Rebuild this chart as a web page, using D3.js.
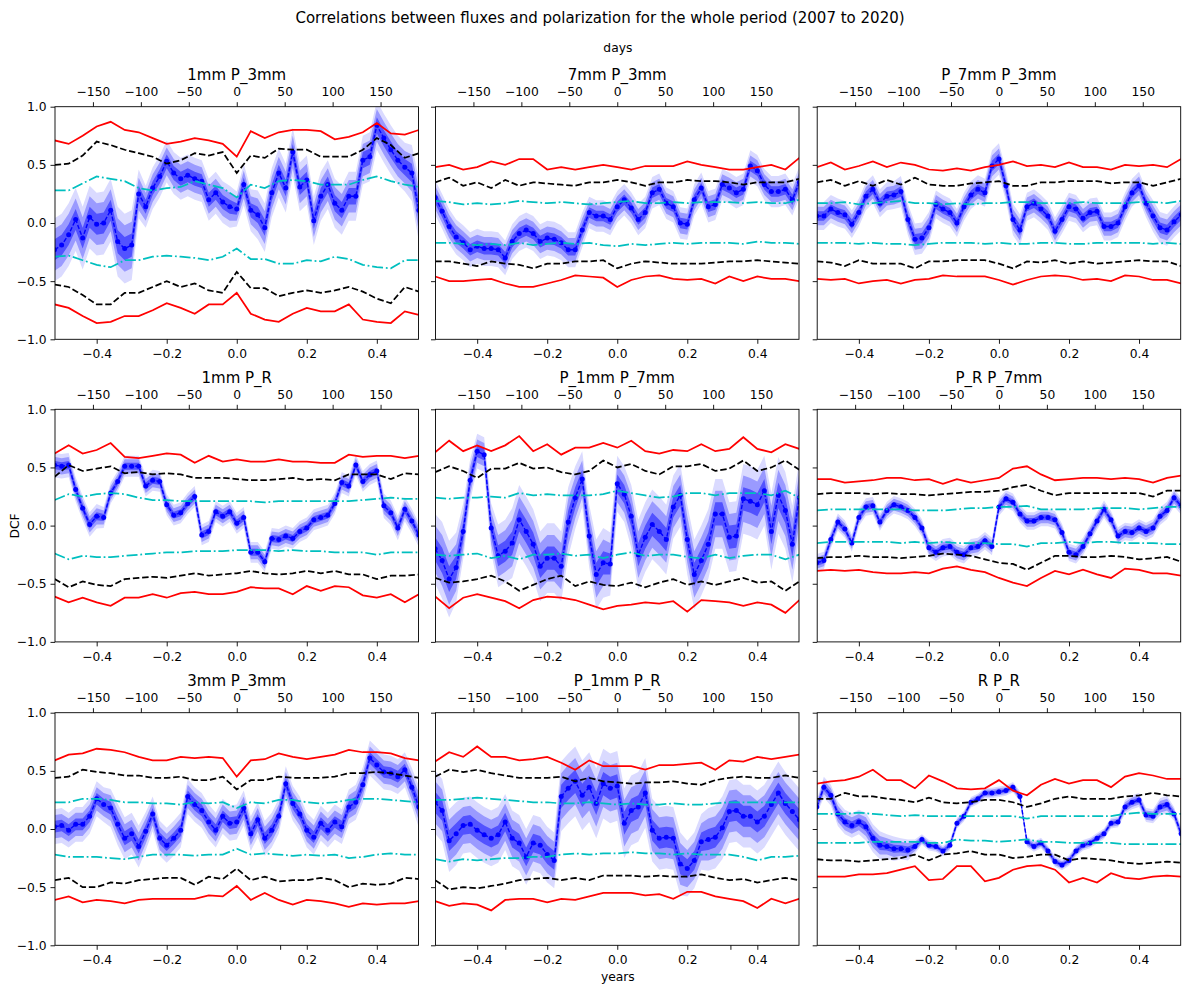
<!DOCTYPE html>
<html>
<head>
<meta charset="utf-8">
<script src="https://cdn.jsdelivr.net/npm/d3@7"></script>
<style>
  body { margin: 0; background: #fff; }
  text { font-family: "DejaVu Sans", sans-serif; fill: #000; }
</style>
</head>
<body>
<svg id="chart" width="1200" height="993"></svg>
<script>
// lags in years: fine grid for the DCF points, coarse grid for the significance levels
const lagFine = [-0.52,-0.50,-0.48,-0.46,-0.44,-0.42,-0.40,-0.38,-0.36,-0.34,-0.32,-0.30,-0.28,-0.26,-0.24,-0.22,-0.20,-0.18,-0.16,-0.14,-0.12,-0.10,-0.08,-0.06,-0.04,-0.02,0.00,0.02,0.04,0.06,0.08,0.10,0.12,0.14,0.16,0.18,0.20,0.22,0.24,0.26,0.28,0.30,0.32,0.34,0.36,0.38,0.40,0.42,0.44,0.46,0.48,0.50,0.52];
const lagCoarse = [-0.52,-0.48,-0.44,-0.40,-0.36,-0.32,-0.28,-0.24,-0.20,-0.16,-0.12,-0.08,-0.04,0.00,0.04,0.08,0.12,0.16,0.20,0.24,0.28,0.32,0.36,0.40,0.44,0.48,0.52];

const yearTicks = [-0.4,-0.2,0.0,0.2,0.4];
const dayTicks = [-150,-100,-50,0,50,100,150];
const dcfTicks = [-1.0,-0.5,0.0,0.5,1.0];

const titles = ["1mm P_3mm","7mm P_3mm","P_7mm P_3mm","1mm P_R","P_1mm P_7mm","P_R P_7mm","3mm P_3mm","P_1mm P_R","R P_R"];

// ---- 1mm P_3mm
const p1_dcf = [-0.23,-0.19,-0.10,0.03,-0.13,0.05,-0.01,0.00,0.11,-0.16,-0.22,-0.19,0.25,0.14,0.30,0.40,0.53,0.43,0.38,0.41,0.38,0.36,0.20,0.26,0.18,0.14,0.12,0.33,0.11,0.07,-0.04,0.26,0.43,0.30,0.61,0.31,0.37,0.02,0.23,0.33,0.17,0.11,0.23,0.23,0.54,0.57,0.84,0.73,0.63,0.54,0.48,0.43,0.11];
const p1_err = [0.09,0.09,0.09,0.09,0.09,0.09,0.09,0.09,0.09,0.10,0.10,0.10,0.07,0.06,0.06,0.06,0.06,0.06,0.06,0.06,0.06,0.06,0.06,0.06,0.06,0.06,0.05,0.06,0.06,0.07,0.07,0.07,0.07,0.07,0.07,0.07,0.07,0.07,0.07,0.07,0.07,0.07,0.07,0.07,0.07,0.07,0.07,0.07,0.07,0.07,0.07,0.08,0.09];
const p1_redHi = [0.71,0.68,0.75,0.83,0.87,0.80,0.78,0.73,0.68,0.70,0.73,0.71,0.68,0.57,0.79,0.73,0.78,0.80,0.80,0.79,0.72,0.74,0.78,0.86,0.77,0.76,0.80];
const p1_blackHi = [0.50,0.51,0.58,0.70,0.67,0.63,0.60,0.57,0.51,0.54,0.60,0.58,0.61,0.43,0.58,0.56,0.64,0.63,0.63,0.57,0.57,0.57,0.63,0.73,0.67,0.56,0.60];
const p1_cyanHi = [0.28,0.28,0.34,0.40,0.38,0.36,0.30,0.28,0.30,0.31,0.36,0.33,0.30,0.22,0.33,0.30,0.36,0.37,0.36,0.33,0.33,0.33,0.37,0.40,0.36,0.33,0.31];
const p1_cyanLo = [-0.29,-0.28,-0.32,-0.36,-0.38,-0.32,-0.32,-0.29,-0.28,-0.29,-0.30,-0.32,-0.29,-0.22,-0.31,-0.31,-0.35,-0.35,-0.32,-0.33,-0.29,-0.31,-0.36,-0.38,-0.39,-0.32,-0.32];
const p1_blackLo = [-0.53,-0.55,-0.62,-0.70,-0.70,-0.60,-0.60,-0.55,-0.50,-0.55,-0.52,-0.58,-0.60,-0.42,-0.56,-0.56,-0.63,-0.60,-0.58,-0.60,-0.58,-0.55,-0.59,-0.65,-0.69,-0.55,-0.59];
const p1_redLo = [-0.70,-0.73,-0.80,-0.86,-0.85,-0.80,-0.80,-0.75,-0.69,-0.73,-0.78,-0.70,-0.70,-0.60,-0.78,-0.83,-0.85,-0.78,-0.73,-0.76,-0.76,-0.70,-0.83,-0.85,-0.86,-0.76,-0.79];

// ---- 7mm P_3mm
const p2_dcf = [0.22,0.10,-0.03,-0.12,-0.17,-0.23,-0.20,-0.22,-0.22,-0.23,-0.30,-0.16,-0.09,-0.06,-0.09,-0.16,-0.13,-0.14,-0.17,-0.23,-0.23,-0.06,0.09,0.06,0.06,0.03,0.14,0.20,0.13,0.03,0.09,0.26,0.29,0.17,0.14,0.00,-0.01,0.20,0.30,0.14,0.16,0.33,0.30,0.26,0.29,0.49,0.45,0.33,0.27,0.27,0.29,0.20,0.35];
const p2_err = [0.05,0.05,0.05,0.05,0.05,0.05,0.05,0.05,0.05,0.05,0.05,0.05,0.05,0.05,0.05,0.05,0.05,0.05,0.05,0.05,0.05,0.05,0.045,0.045,0.045,0.045,0.045,0.045,0.045,0.045,0.045,0.045,0.045,0.045,0.045,0.045,0.045,0.045,0.045,0.045,0.045,0.045,0.045,0.045,0.045,0.045,0.045,0.045,0.045,0.045,0.045,0.045,0.045];
const p2_redHi = [0.48,0.50,0.46,0.48,0.53,0.50,0.55,0.55,0.46,0.48,0.46,0.48,0.50,0.48,0.46,0.49,0.49,0.49,0.53,0.50,0.48,0.46,0.46,0.48,0.50,0.46,0.56];
const p2_blackHi = [0.35,0.39,0.32,0.35,0.30,0.37,0.32,0.35,0.34,0.33,0.32,0.35,0.35,0.37,0.35,0.32,0.35,0.35,0.37,0.36,0.36,0.35,0.33,0.35,0.35,0.35,0.38];
const p2_cyanHi = [0.19,0.18,0.16,0.17,0.16,0.17,0.19,0.18,0.17,0.18,0.17,0.16,0.17,0.18,0.19,0.17,0.17,0.18,0.17,0.18,0.18,0.18,0.17,0.18,0.17,0.17,0.20];
const p2_cyanLo = [-0.17,-0.17,-0.18,-0.19,-0.18,-0.19,-0.17,-0.19,-0.18,-0.17,-0.18,-0.17,-0.19,-0.20,-0.18,-0.19,-0.18,-0.17,-0.18,-0.17,-0.17,-0.17,-0.18,-0.16,-0.17,-0.17,-0.18];
const p2_blackLo = [-0.33,-0.33,-0.35,-0.37,-0.33,-0.35,-0.36,-0.39,-0.35,-0.35,-0.33,-0.33,-0.32,-0.39,-0.35,-0.33,-0.34,-0.35,-0.35,-0.35,-0.34,-0.33,-0.33,-0.32,-0.33,-0.34,-0.35];
const p2_redLo = [-0.46,-0.50,-0.50,-0.49,-0.48,-0.52,-0.55,-0.55,-0.52,-0.49,-0.45,-0.46,-0.47,-0.55,-0.49,-0.46,-0.45,-0.48,-0.49,-0.48,-0.52,-0.46,-0.50,-0.46,-0.48,-0.48,-0.50];

// ---- P_7mm P_3mm
const p3_dcf = [0.06,0.06,0.12,0.09,0.07,-0.01,0.09,0.23,0.29,0.17,0.23,0.24,0.27,0.03,-0.14,-0.13,-0.04,0.16,0.12,0.09,0.00,0.14,0.24,0.29,0.26,0.49,0.55,0.32,0.03,-0.06,0.14,0.17,0.12,0.06,-0.07,0.03,0.14,0.12,0.04,0.09,0.10,-0.03,-0.03,0.00,0.14,0.26,0.32,0.17,0.06,-0.04,-0.06,0.01,0.07];
const p3_err = [0.04,0.04,0.04,0.04,0.04,0.04,0.04,0.04,0.04,0.04,0.04,0.04,0.045,0.045,0.045,0.045,0.045,0.04,0.04,0.04,0.04,0.04,0.04,0.04,0.04,0.045,0.045,0.045,0.045,0.045,0.04,0.04,0.04,0.04,0.04,0.04,0.04,0.04,0.04,0.04,0.04,0.04,0.04,0.04,0.04,0.04,0.04,0.04,0.045,0.045,0.045,0.045,0.045];
const p3_redHi = [0.48,0.52,0.46,0.49,0.53,0.48,0.52,0.50,0.46,0.45,0.47,0.45,0.48,0.50,0.53,0.49,0.50,0.48,0.52,0.48,0.48,0.46,0.50,0.49,0.50,0.48,0.55];
const p3_blackHi = [0.35,0.37,0.32,0.36,0.32,0.37,0.33,0.39,0.33,0.32,0.32,0.34,0.35,0.36,0.32,0.32,0.35,0.35,0.36,0.36,0.36,0.34,0.35,0.35,0.32,0.35,0.38];
const p3_cyanHi = [0.17,0.17,0.18,0.16,0.17,0.18,0.19,0.17,0.17,0.16,0.17,0.16,0.17,0.17,0.18,0.18,0.17,0.17,0.17,0.18,0.17,0.17,0.17,0.18,0.18,0.17,0.19];
const p3_cyanLo = [-0.17,-0.17,-0.17,-0.18,-0.17,-0.18,-0.18,-0.19,-0.18,-0.17,-0.17,-0.17,-0.18,-0.17,-0.18,-0.18,-0.17,-0.17,-0.18,-0.18,-0.17,-0.17,-0.17,-0.17,-0.18,-0.17,-0.18];
const p3_blackLo = [-0.33,-0.34,-0.37,-0.32,-0.35,-0.35,-0.35,-0.39,-0.33,-0.33,-0.32,-0.32,-0.32,-0.35,-0.39,-0.33,-0.34,-0.32,-0.35,-0.33,-0.35,-0.34,-0.33,-0.32,-0.33,-0.33,-0.37];
const p3_redLo = [-0.48,-0.49,-0.48,-0.52,-0.50,-0.49,-0.52,-0.49,-0.48,-0.45,-0.46,-0.46,-0.46,-0.49,-0.53,-0.49,-0.46,-0.45,-0.46,-0.49,-0.48,-0.50,-0.45,-0.46,-0.49,-0.49,-0.52];

// ---- 1mm P_R
const p4_dcf = [0.52,0.51,0.52,0.31,0.15,0.01,0.08,0.07,0.28,0.38,0.51,0.51,0.51,0.34,0.39,0.38,0.18,0.09,0.11,0.19,0.25,-0.08,-0.05,0.12,0.08,0.12,0.02,0.07,-0.23,-0.23,-0.31,-0.11,-0.12,-0.09,-0.11,-0.05,-0.02,0.05,0.07,0.09,0.19,0.37,0.34,0.52,0.38,0.44,0.47,0.17,0.11,-0.02,0.14,0.04,-0.08];
const p4_err = [0.035,0.035,0.035,0.035,0.035,0.035,0.035,0.03,0.03,0.03,0.03,0.03,0.03,0.03,0.03,0.03,0.03,0.03,0.03,0.03,0.03,0.03,0.03,0.03,0.03,0.03,0.03,0.03,0.03,0.03,0.03,0.03,0.03,0.03,0.03,0.03,0.03,0.03,0.03,0.03,0.03,0.03,0.03,0.03,0.03,0.03,0.03,0.035,0.035,0.035,0.035,0.035,0.035];
const p4_redHi = [0.62,0.69,0.62,0.65,0.71,0.59,0.58,0.60,0.62,0.61,0.54,0.60,0.55,0.57,0.55,0.55,0.57,0.55,0.55,0.54,0.54,0.61,0.59,0.60,0.60,0.58,0.60];
const p4_blackHi = [0.42,0.52,0.47,0.49,0.51,0.45,0.46,0.44,0.45,0.44,0.41,0.41,0.41,0.40,0.39,0.39,0.40,0.41,0.39,0.40,0.39,0.44,0.44,0.44,0.40,0.45,0.44];
const p4_cyanHi = [0.22,0.27,0.25,0.27,0.28,0.27,0.24,0.22,0.22,0.21,0.21,0.21,0.21,0.21,0.21,0.20,0.21,0.21,0.21,0.21,0.21,0.21,0.22,0.23,0.24,0.23,0.23];
const p4_cyanLo = [-0.24,-0.29,-0.26,-0.27,-0.27,-0.26,-0.25,-0.24,-0.23,-0.23,-0.22,-0.22,-0.22,-0.21,-0.21,-0.21,-0.22,-0.21,-0.22,-0.22,-0.23,-0.23,-0.23,-0.25,-0.23,-0.23,-0.23];
const p4_blackLo = [-0.46,-0.53,-0.48,-0.51,-0.52,-0.46,-0.45,-0.44,-0.45,-0.43,-0.41,-0.43,-0.42,-0.41,-0.39,-0.41,-0.42,-0.41,-0.39,-0.41,-0.39,-0.42,-0.42,-0.46,-0.43,-0.43,-0.42];
const p4_redLo = [-0.61,-0.66,-0.62,-0.66,-0.69,-0.62,-0.62,-0.59,-0.62,-0.58,-0.57,-0.59,-0.59,-0.57,-0.53,-0.54,-0.54,-0.59,-0.52,-0.56,-0.52,-0.53,-0.60,-0.62,-0.59,-0.66,-0.59];

// ---- P_1mm P_7mm
const p5_dcf = [-0.20,-0.30,-0.46,-0.36,-0.05,0.39,0.64,0.61,-0.02,-0.26,-0.22,-0.15,0.05,-0.05,-0.16,-0.35,-0.28,-0.28,-0.35,0.03,0.24,0.40,-0.09,-0.42,-0.32,-0.33,0.36,0.27,0.08,-0.25,-0.10,0.01,-0.05,-0.12,0.16,0.26,-0.12,-0.42,-0.30,-0.16,0.10,0.10,-0.10,-0.09,0.23,0.21,0.18,0.30,-0.05,0.26,0.13,-0.16,0.24];
const p5_err = [0.10,0.11,0.11,0.10,0.08,0.06,0.05,0.05,0.07,0.09,0.09,0.10,0.10,0.10,0.10,0.10,0.10,0.10,0.10,0.10,0.09,0.08,0.09,0.10,0.10,0.09,0.08,0.08,0.09,0.10,0.10,0.10,0.10,0.10,0.09,0.09,0.10,0.10,0.10,0.10,0.10,0.10,0.10,0.10,0.10,0.10,0.10,0.10,0.11,0.11,0.11,0.11,0.11];
const p5_redHi = [0.63,0.73,0.64,0.69,0.64,0.69,0.77,0.64,0.70,0.61,0.67,0.67,0.71,0.67,0.73,0.64,0.62,0.65,0.64,0.70,0.64,0.66,0.76,0.66,0.63,0.70,0.66];
const p5_blackHi = [0.46,0.51,0.47,0.41,0.49,0.49,0.54,0.49,0.50,0.46,0.44,0.47,0.56,0.50,0.53,0.47,0.44,0.51,0.51,0.53,0.47,0.49,0.56,0.47,0.50,0.56,0.48];
const p5_cyanHi = [0.24,0.23,0.24,0.24,0.25,0.24,0.28,0.26,0.27,0.26,0.26,0.26,0.27,0.30,0.28,0.26,0.24,0.25,0.28,0.28,0.26,0.28,0.28,0.28,0.26,0.30,0.24];
const p5_cyanLo = [-0.25,-0.26,-0.25,-0.24,-0.28,-0.26,-0.29,-0.25,-0.25,-0.24,-0.26,-0.25,-0.28,-0.25,-0.23,-0.26,-0.25,-0.25,-0.27,-0.28,-0.25,-0.28,-0.26,-0.25,-0.25,-0.29,-0.25];
const p5_blackLo = [-0.45,-0.49,-0.48,-0.46,-0.43,-0.48,-0.56,-0.51,-0.46,-0.43,-0.52,-0.48,-0.51,-0.52,-0.49,-0.53,-0.49,-0.46,-0.51,-0.48,-0.51,-0.48,-0.45,-0.49,-0.48,-0.56,-0.48];
const p5_redLo = [-0.61,-0.71,-0.62,-0.59,-0.62,-0.65,-0.71,-0.64,-0.61,-0.62,-0.64,-0.68,-0.72,-0.69,-0.68,-0.66,-0.67,-0.65,-0.74,-0.64,-0.65,-0.66,-0.69,-0.66,-0.68,-0.75,-0.64];

// ---- P_R P_7mm
const p6_dcf = [-0.32,-0.30,-0.12,0.03,-0.03,-0.15,0.07,0.16,0.17,0.03,0.13,0.18,0.16,0.13,0.07,-0.02,-0.19,-0.23,-0.19,-0.18,-0.23,-0.25,-0.19,-0.18,-0.13,-0.18,0.16,0.23,0.20,0.10,0.04,0.04,0.07,0.07,0.05,-0.06,-0.23,-0.25,-0.18,-0.07,0.04,0.14,0.05,-0.09,-0.05,-0.06,-0.02,-0.05,-0.02,0.08,0.13,0.24,0.17];
const p6_err = [0.025,0.025,0.025,0.025,0.025,0.025,0.025,0.025,0.025,0.025,0.025,0.025,0.025,0.025,0.025,0.025,0.025,0.025,0.025,0.025,0.025,0.025,0.025,0.025,0.025,0.025,0.025,0.025,0.025,0.025,0.025,0.025,0.025,0.025,0.025,0.025,0.025,0.025,0.025,0.025,0.025,0.025,0.025,0.025,0.025,0.025,0.025,0.025,0.025,0.025,0.025,0.025,0.025];
const p6_redHi = [0.40,0.40,0.37,0.38,0.39,0.41,0.41,0.39,0.40,0.36,0.40,0.37,0.39,0.41,0.49,0.51,0.44,0.39,0.40,0.41,0.41,0.40,0.41,0.40,0.37,0.41,0.43];
const p6_blackHi = [0.27,0.28,0.28,0.28,0.27,0.28,0.27,0.27,0.26,0.27,0.28,0.29,0.29,0.30,0.33,0.35,0.30,0.26,0.28,0.28,0.28,0.28,0.28,0.28,0.25,0.30,0.30];
const p6_cyanHi = [0.13,0.14,0.14,0.14,0.14,0.14,0.14,0.13,0.13,0.13,0.14,0.15,0.15,0.16,0.16,0.17,0.14,0.14,0.14,0.14,0.15,0.15,0.15,0.14,0.15,0.16,0.16];
const p6_cyanLo = [-0.15,-0.14,-0.14,-0.14,-0.14,-0.14,-0.15,-0.14,-0.15,-0.14,-0.15,-0.15,-0.15,-0.16,-0.16,-0.18,-0.15,-0.15,-0.14,-0.15,-0.14,-0.14,-0.15,-0.15,-0.15,-0.16,-0.16];
const p6_blackLo = [-0.28,-0.27,-0.27,-0.26,-0.27,-0.27,-0.28,-0.27,-0.26,-0.24,-0.25,-0.26,-0.29,-0.32,-0.33,-0.38,-0.32,-0.26,-0.26,-0.27,-0.27,-0.26,-0.27,-0.29,-0.28,-0.27,-0.31];
const p6_redLo = [-0.39,-0.38,-0.39,-0.38,-0.40,-0.41,-0.41,-0.40,-0.41,-0.37,-0.35,-0.38,-0.40,-0.45,-0.49,-0.52,-0.45,-0.39,-0.42,-0.38,-0.42,-0.45,-0.37,-0.38,-0.41,-0.41,-0.43];

// ---- 3mm P_3mm
const p7_dcf = [0.02,0.03,-0.01,0.04,0.04,0.11,0.26,0.21,0.18,0.04,-0.08,-0.04,-0.15,-0.02,0.13,-0.08,-0.14,-0.08,-0.01,0.28,0.21,0.16,0.06,-0.01,0.11,0.05,0.06,0.18,-0.04,0.08,-0.08,-0.01,0.11,0.39,0.22,0.13,-0.01,-0.07,0.05,-0.01,0.06,0.02,0.19,0.23,0.38,0.61,0.55,0.49,0.48,0.45,0.51,0.36,0.19];
const p7_err = [0.05,0.05,0.05,0.05,0.05,0.05,0.05,0.05,0.055,0.06,0.06,0.06,0.06,0.055,0.05,0.05,0.05,0.05,0.05,0.05,0.05,0.05,0.05,0.05,0.05,0.05,0.05,0.05,0.05,0.05,0.05,0.05,0.05,0.05,0.05,0.05,0.05,0.05,0.05,0.05,0.05,0.05,0.05,0.05,0.05,0.05,0.05,0.05,0.05,0.05,0.05,0.055,0.06];
const p7_redHi = [0.59,0.64,0.65,0.69,0.68,0.66,0.62,0.59,0.59,0.62,0.61,0.62,0.61,0.45,0.59,0.60,0.65,0.62,0.60,0.62,0.64,0.68,0.66,0.66,0.65,0.61,0.59];
const p7_blackHi = [0.44,0.45,0.51,0.49,0.48,0.46,0.46,0.44,0.44,0.45,0.42,0.42,0.45,0.34,0.42,0.42,0.45,0.44,0.44,0.44,0.45,0.48,0.48,0.49,0.48,0.46,0.44];
const p7_cyanHi = [0.23,0.23,0.26,0.26,0.25,0.23,0.23,0.22,0.22,0.21,0.23,0.22,0.23,0.18,0.23,0.22,0.25,0.25,0.23,0.22,0.23,0.25,0.26,0.26,0.25,0.24,0.23];
const p7_cyanLo = [-0.22,-0.24,-0.24,-0.24,-0.25,-0.26,-0.24,-0.22,-0.22,-0.22,-0.23,-0.22,-0.22,-0.17,-0.22,-0.21,-0.22,-0.23,-0.22,-0.23,-0.22,-0.25,-0.24,-0.22,-0.21,-0.22,-0.22];
const p7_blackLo = [-0.44,-0.42,-0.50,-0.50,-0.46,-0.47,-0.44,-0.43,-0.42,-0.42,-0.48,-0.41,-0.43,-0.34,-0.44,-0.41,-0.45,-0.44,-0.44,-0.42,-0.44,-0.50,-0.47,-0.48,-0.47,-0.42,-0.43];
const p7_redLo = [-0.61,-0.58,-0.63,-0.61,-0.62,-0.64,-0.61,-0.60,-0.60,-0.60,-0.60,-0.57,-0.58,-0.49,-0.61,-0.55,-0.61,-0.65,-0.61,-0.62,-0.64,-0.67,-0.64,-0.65,-0.64,-0.64,-0.62];

// ---- P_1mm P_R
const p8_dcf = [0.23,0.16,-0.10,-0.04,0.03,0.04,-0.01,-0.05,-0.08,-0.05,0.06,-0.08,-0.12,-0.24,-0.12,-0.14,-0.22,-0.27,0.28,0.35,0.41,0.29,0.36,0.22,0.39,0.35,0.37,0.05,0.16,0.19,0.31,-0.01,-0.08,-0.07,-0.08,-0.30,-0.34,-0.27,-0.11,-0.09,-0.07,0.01,0.15,0.16,0.11,0.11,0.06,0.11,0.21,0.31,0.22,0.15,0.08];
const p8_err = [0.09,0.09,0.09,0.09,0.08,0.08,0.08,0.08,0.08,0.08,0.08,0.08,0.08,0.08,0.08,0.08,0.08,0.08,0.10,0.10,0.10,0.10,0.10,0.10,0.10,0.10,0.10,0.10,0.10,0.10,0.10,0.09,0.09,0.09,0.09,0.09,0.08,0.08,0.08,0.09,0.09,0.09,0.09,0.09,0.09,0.09,0.09,0.09,0.09,0.09,0.09,0.09,0.09];
const p8_redHi = [0.58,0.66,0.62,0.71,0.62,0.62,0.59,0.60,0.62,0.57,0.51,0.59,0.54,0.54,0.54,0.51,0.55,0.55,0.56,0.57,0.51,0.59,0.58,0.62,0.60,0.62,0.64];
const p8_blackHi = [0.45,0.51,0.49,0.51,0.48,0.46,0.44,0.44,0.44,0.45,0.41,0.44,0.41,0.40,0.39,0.40,0.40,0.41,0.39,0.38,0.42,0.44,0.45,0.44,0.44,0.46,0.44];
const p8_cyanHi = [0.25,0.25,0.26,0.27,0.26,0.25,0.24,0.23,0.23,0.22,0.22,0.23,0.22,0.21,0.22,0.21,0.21,0.22,0.21,0.21,0.22,0.23,0.23,0.23,0.23,0.23,0.23];
const p8_cyanLo = [-0.26,-0.28,-0.26,-0.27,-0.26,-0.25,-0.25,-0.24,-0.24,-0.22,-0.21,-0.22,-0.21,-0.21,-0.20,-0.21,-0.21,-0.22,-0.21,-0.22,-0.22,-0.22,-0.24,-0.27,-0.24,-0.24,-0.23];
const p8_blackLo = [-0.44,-0.52,-0.50,-0.51,-0.49,-0.47,-0.44,-0.43,-0.42,-0.44,-0.42,-0.44,-0.40,-0.40,-0.40,-0.41,-0.40,-0.41,-0.41,-0.39,-0.42,-0.44,-0.43,-0.46,-0.44,-0.42,-0.44];
const p8_redLo = [-0.62,-0.66,-0.64,-0.65,-0.70,-0.61,-0.60,-0.60,-0.63,-0.60,-0.61,-0.58,-0.55,-0.55,-0.55,-0.57,-0.56,-0.60,-0.54,-0.54,-0.58,-0.60,-0.62,-0.68,-0.60,-0.64,-0.60];

// ---- R P_R
const p9_dcf = [0.19,0.36,0.29,0.13,0.06,0.03,0.06,0.02,-0.08,-0.14,-0.15,-0.17,-0.17,-0.18,-0.15,-0.09,-0.14,-0.15,-0.19,-0.14,0.05,0.11,0.23,0.26,0.31,0.31,0.32,0.33,0.36,0.28,-0.11,-0.15,-0.12,-0.19,-0.28,-0.31,-0.27,-0.19,-0.14,-0.12,-0.08,-0.04,0.05,0.06,0.19,0.23,0.25,0.12,0.11,0.19,0.21,0.13,-0.04];
const p9_err = [0.02,0.03,0.03,0.035,0.035,0.035,0.035,0.04,0.04,0.04,0.035,0.035,0.03,0.03,0.02,0.015,0.015,0.015,0.015,0.015,0.015,0.015,0.015,0.015,0.015,0.015,0.015,0.015,0.015,0.015,0.015,0.015,0.015,0.015,0.015,0.015,0.015,0.015,0.015,0.015,0.015,0.015,0.015,0.015,0.02,0.02,0.02,0.02,0.02,0.025,0.025,0.02,0.02];
const p9_redHi = [0.39,0.41,0.42,0.45,0.51,0.42,0.42,0.35,0.46,0.41,0.35,0.34,0.35,0.42,0.33,0.29,0.38,0.43,0.39,0.42,0.42,0.36,0.45,0.48,0.46,0.43,0.43];
const p9_blackHi = [0.26,0.26,0.31,0.28,0.28,0.26,0.25,0.23,0.27,0.23,0.22,0.23,0.25,0.25,0.23,0.19,0.22,0.26,0.28,0.26,0.26,0.26,0.28,0.29,0.31,0.29,0.28];
const p9_cyanHi = [0.13,0.13,0.13,0.14,0.13,0.12,0.11,0.12,0.11,0.11,0.11,0.11,0.11,0.11,0.11,0.09,0.11,0.11,0.11,0.11,0.11,0.11,0.13,0.14,0.13,0.13,0.13];
const p9_cyanLo = [-0.12,-0.12,-0.12,-0.12,-0.11,-0.11,-0.11,-0.11,-0.12,-0.12,-0.09,-0.10,-0.10,-0.11,-0.10,-0.09,-0.11,-0.11,-0.12,-0.12,-0.12,-0.12,-0.13,-0.13,-0.13,-0.13,-0.13];
const p9_blackLo = [-0.26,-0.27,-0.27,-0.28,-0.27,-0.26,-0.25,-0.22,-0.27,-0.22,-0.21,-0.19,-0.22,-0.22,-0.25,-0.24,-0.22,-0.22,-0.27,-0.25,-0.26,-0.27,-0.29,-0.30,-0.29,-0.28,-0.29];
const p9_redLo = [-0.41,-0.41,-0.41,-0.39,-0.39,-0.38,-0.35,-0.32,-0.44,-0.43,-0.32,-0.32,-0.45,-0.42,-0.35,-0.32,-0.31,-0.35,-0.46,-0.42,-0.46,-0.38,-0.42,-0.43,-0.41,-0.40,-0.41];

const panels = [
  [p1_dcf, p1_err, p1_redHi, p1_blackHi, p1_cyanHi, p1_cyanLo, p1_blackLo, p1_redLo],
  [p2_dcf, p2_err, p2_redHi, p2_blackHi, p2_cyanHi, p2_cyanLo, p2_blackLo, p2_redLo],
  [p3_dcf, p3_err, p3_redHi, p3_blackHi, p3_cyanHi, p3_cyanLo, p3_blackLo, p3_redLo],
  [p4_dcf, p4_err, p4_redHi, p4_blackHi, p4_cyanHi, p4_cyanLo, p4_blackLo, p4_redLo],
  [p5_dcf, p5_err, p5_redHi, p5_blackHi, p5_cyanHi, p5_cyanLo, p5_blackLo, p5_redLo],
  [p6_dcf, p6_err, p6_redHi, p6_blackHi, p6_cyanHi, p6_cyanLo, p6_blackLo, p6_redLo],
  [p7_dcf, p7_err, p7_redHi, p7_blackHi, p7_cyanHi, p7_cyanLo, p7_blackLo, p7_redLo],
  [p8_dcf, p8_err, p8_redHi, p8_blackHi, p8_cyanHi, p8_cyanLo, p8_blackLo, p8_redLo],
  [p9_dcf, p9_err, p9_redHi, p9_blackHi, p9_cyanHi, p9_cyanLo, p9_blackLo, p9_redLo]
].map((a, i) => ({title: titles[i], dcf: a[0], err: a[1], levels: a.slice(2)}));

// layout
const colLeft = [55, 435.5, 817.2], rowTop = [106.7, 409.3, 712.7];
const W = 363.5, H = 232.6;
const tickFont = "12.3px", titleFont = "15px";

const svg = d3.select("#chart");
const defs = svg.append("defs");

// the significance curves: red solid, black dashed, cyan dash-dot (upper then lower)
const levelStyle = [
  {color: "#ff0000", dash: null},
  {color: "#000000", dash: "6.5,2.8"},
  {color: "#00bfbf", dash: "11,2.8,1.8,2.8"},
  {color: "#00bfbf", dash: "11,2.8,1.8,2.8"},
  {color: "#000000", dash: "6.5,2.8"},
  {color: "#ff0000", dash: null}
];
const bandColors = ["#dadaff", "#9a9aff", "#5252ff"];  // 3, 2, 1 sigma

function styleAxis(sel) {
  sel.select(".domain").remove();
  sel.selectAll(".tick line").attr("stroke", "#000").attr("stroke-width", 0.9);
  sel.selectAll(".tick text").style("font-size", tickFont).attr("fill", "#000");
}

panels.forEach((p, i) => {
  const col = i % 3, row = Math.floor(i / 3);
  const g = svg.append("g").attr("transform", `translate(${colLeft[col]},${rowTop[row]})`);

  const x = d3.scaleLinear().domain([-0.519, 0.519]).range([0, W]);
  const xDays = d3.scaleLinear().domain([-0.519 * 365.25, 0.519 * 365.25]).range([0, W]);
  const y = d3.scaleLinear().domain([-1, 1]).range([H, 0]);

  defs.append("clipPath").attr("id", "clip" + i)
    .append("rect").attr("width", W).attr("height", H);
  const plot = g.append("g").attr("clip-path", `url(#clip${i})`);

  // shaded error bands
  [3, 2, 1].forEach((k, b) => {
    const area = d3.area()
      .x((d, j) => x(lagFine[j]))
      .y0((d, j) => y(d - k * p.err[j]))
      .y1((d, j) => y(d + k * p.err[j]));
    plot.append("path").datum(p.dcf)
      .attr("d", area)
      .attr("fill", bandColors[b]);
  });

  // DCF curve
  const line = d3.line().x((d, j) => x(lagFine[j])).y(d => y(d));
  plot.append("path").datum(p.dcf)
    .attr("d", line)
    .attr("fill", "none")
    .attr("stroke", "#0000ff")
    .attr("stroke-width", 1.4)
    .attr("stroke-dasharray", "4.3,1.9");
  plot.selectAll("circle.pt").data(p.dcf).enter()
    .append("circle")
    .attr("class", "pt")
    .attr("cx", (d, j) => x(lagFine[j]))
    .attr("cy", d => y(d))
    .attr("r", 2.5)
    .attr("fill", "#0000ff");

  // significance levels
  const lvlLine = d3.line().x((d, j) => x(lagCoarse[j])).y(d => y(d));
  p.levels.forEach((lv, k) => {
    plot.append("path").datum(lv)
      .attr("d", lvlLine)
      .attr("fill", "none")
      .attr("stroke", levelStyle[k].color)
      .attr("stroke-width", 1.75)
      .attr("stroke-dasharray", levelStyle[k].dash);
  });

  // axes
  const bottom = g.append("g").attr("transform", `translate(0,${H})`)
    .call(d3.axisBottom(x).tickValues(yearTicks).tickFormat(d3.format(".1f")).tickSize(4.5).tickPadding(5.5));
  styleAxis(bottom);

  const top = g.append("g")
    .call(d3.axisTop(xDays).tickValues(dayTicks).tickFormat(d3.format("d")).tickSize(4.5).tickPadding(6));
  styleAxis(top);

  const left = g.append("g")
    .call(d3.axisLeft(y).tickValues(dcfTicks).tickFormat(col === 0 ? d3.format(".1f") : "").tickSize(4.5).tickPadding(4));
  styleAxis(left);

  g.append("rect")
    .attr("width", W).attr("height", H)
    .attr("fill", "none").attr("stroke", "#000").attr("stroke-width", 0.9);

  g.append("text")
    .attr("x", W / 2).attr("y", -26.5)
    .attr("text-anchor", "middle")
    .style("font-size", titleFont)
    .text(p.title);
});

// ticks of the shared (frameless) outer axes
const outerX = d3.scaleLinear().domain([0, 1]).range([colLeft[0], colLeft[2] + W]);
svg.append("g")
  .attr("transform", `translate(0,${rowTop[2] + H})`)
  .call(d3.axisBottom(outerX).tickValues([0.2, 0.4, 0.6, 0.8]).tickFormat("").tickSize(4.5))
  .call(styleAxis);

// figure labels
const midX = (colLeft[0] + colLeft[2] + W) / 2;
svg.append("text")
  .attr("x", 600).attr("y", 23)
  .attr("text-anchor", "middle")
  .style("font-size", titleFont)
  .text("Correlations between fluxes and polarization for the whole period (2007 to 2020)");

svg.append("text")
  .attr("x", midX).attr("y", 52)
  .attr("text-anchor", "middle")
  .style("font-size", tickFont)
  .text("days");

svg.append("text")
  .attr("x", midX).attr("y", 981)
  .attr("text-anchor", "middle")
  .style("font-size", tickFont)
  .text("years");

svg.append("text")
  .attr("transform", `translate(19,${(rowTop[0] + rowTop[2] + H) / 2}) rotate(-90)`)
  .attr("text-anchor", "middle")
  .style("font-size", tickFont)
  .text("DCF");
</script>
</body>
</html>
